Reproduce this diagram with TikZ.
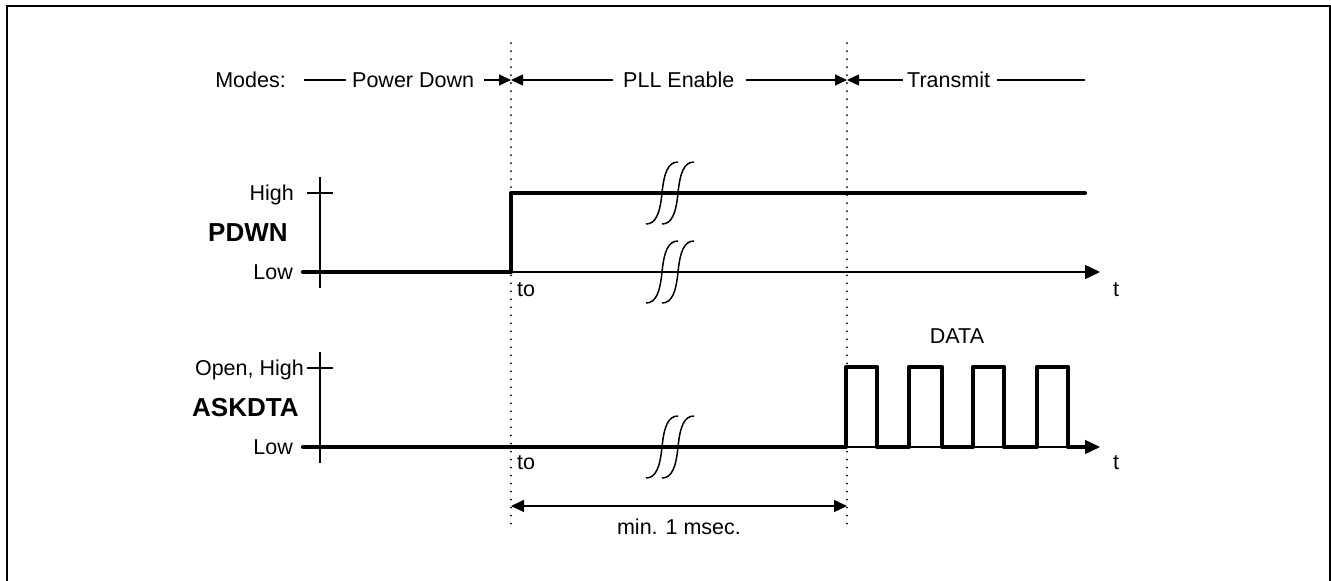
\documentclass[tikz,border=0pt]{standalone}
\usepackage{fontspec}
\setmainfont{Liberation Sans}
\usetikzlibrary{arrows.meta}
\begin{document}
\begin{tikzpicture}[x=1pt,y=-1pt,
  lbl/.style={inner sep=0pt, font=\fontsize{21.5}{24}\selectfont, text height=15.4pt, text depth=0pt},
  big/.style={inner sep=0pt, font=\fontsize{26}{30}\selectfont\bfseries, text height=18.7pt, text depth=0pt},
  thinln/.style={line width=1.5pt},
  sig/.style={line width=4.2pt, line cap=round, line join=round},
  dots/.style={line width=2pt, line cap=round, dash pattern=on 0.01pt off 8pt},
  modearr/.style={thinln, -{Triangle[length=12pt,width=11pt]}},
  axarr/.style={thinln, -{Triangle[length=15pt,width=14pt]}},
  dimarr/.style={thinln, {Triangle[length=13pt,width=12pt]}-{Triangle[length=13pt,width=12pt]}},
  brk/.style={line width=1.5pt},
  frameln/.style={line width=2pt},
  brkmark/.pic={\draw[brk] (-16,31) .. controls (-6,31) and (-2,20) .. (0,0) .. controls (2,-20) and (6,-31) .. (16,-31);}
]
\useasboundingbox (0,0) rectangle (1331,581);
% frame
\draw[frameln] (7,600) -- (7,6) -- (1330,6) -- (1330,600);

% dotted markers
\coordinate (d1t) at (511,43); \coordinate (d1b) at (511,525);
\coordinate (d2t) at (847,43); \coordinate (d2b) at (847,525);
\draw[dots] (d1t) -- (d1b);
\draw[dots] (d2t) -- (d2b);

% modes row
\coordinate (m1) at (511,80);
\coordinate (m2) at (847,80);
\coordinate (m0) at (304,80);
\coordinate (mend) at (1085,80);
\node[lbl, anchor=east] (modes) at (286,80) {Modes:};
\node[lbl, anchor=west] (pd) at (352,80) {Power Down};
\node[lbl, anchor=west] (pll) at (623,80) {PLL Enable};
\node[lbl, anchor=west] (tx) at (907,80) {Transmit};
\draw[thinln] (m0) -- ([xshift=-6pt]pd.west);
\draw[modearr] ([xshift=10pt]pd.east) -- (m1);
\draw[modearr] ([xshift=-10pt]pll.west) -- (m1);
\draw[modearr] ([xshift=11pt]pll.east) -- (m2);
\draw[modearr] ([xshift=-4pt]tx.west) -- (m2);
\draw[thinln] ([xshift=7pt]tx.east) -- (mend);

% PDWN
\coordinate (a1t) at (320,177); \coordinate (a1b) at (320,288);
\coordinate (k1l) at (307,193); \coordinate (k1r) at (333,193);
\coordinate (x1s) at (320,272); \coordinate (x1e) at (1100,272);
\draw[thinln] (a1t) -- (a1b);
\draw[thinln] (k1l) -- (k1r);
\draw[axarr] (x1s) -- (x1e);
\node[lbl, anchor=east] (hi1) at (294,193) {High};
\node[big, anchor=west] (pdwn) at (208,232) {PDWN};
\node[lbl, anchor=east] (lo1) at (293,272) {Low};
\node[lbl, anchor=west] (to1) at (517,289) {to};
\node[lbl] (t1) at (1116,289) {t};
\draw[sig] (303,272) -- (511,272) -- (511,193) -- (1085,193);
\pic at (662,193) {brkmark};
\pic at (678,193) {brkmark};
\pic at (662,272) {brkmark};
\pic at (678,272) {brkmark};

% ASKDTA
\coordinate (a2t) at (320,352); \coordinate (a2b) at (320,463);
\coordinate (k2l) at (307,368); \coordinate (k2r) at (333,368);
\coordinate (x2s) at (320,447); \coordinate (x2e) at (1100,447);
\draw[thinln] (a2t) -- (a2b);
\draw[thinln] (k2l) -- (k2r);
\node[lbl, anchor=east] (hi2) at (304,368) {Open, High};
\node[big, anchor=west] (askdta) at (192,407) {ASKDTA};
\node[lbl, anchor=east] (lo2) at (293,447) {Low};
\node[lbl, anchor=west] (to2) at (517,462) {to};
\node[lbl] (t2) at (1116,462) {t};
\node[lbl] (data) at (957,336) {DATA};
\draw[sig] (303,447) -- (846,447) -- (846,367) -- (877,367) -- (877,447)
  -- (909,447) -- (909,367) -- (942,367) -- (942,447)
  -- (973,447) -- (973,367) -- (1004,367) -- (1004,447)
  -- (1037,447) -- (1037,367) -- (1068,367) -- (1068,447) -- (1088,447);
\draw[axarr] (x2s) -- (x2e);
\pic at (662,447) {brkmark};
\pic at (678,447) {brkmark};

% duration
\coordinate (r1) at (511,506); \coordinate (r2) at (847,506);
\draw[dimarr] (r1) -- (r2);
\node[lbl] (dur) at (679,527) {min. 1 msec.};
\end{tikzpicture}
\end{document}
